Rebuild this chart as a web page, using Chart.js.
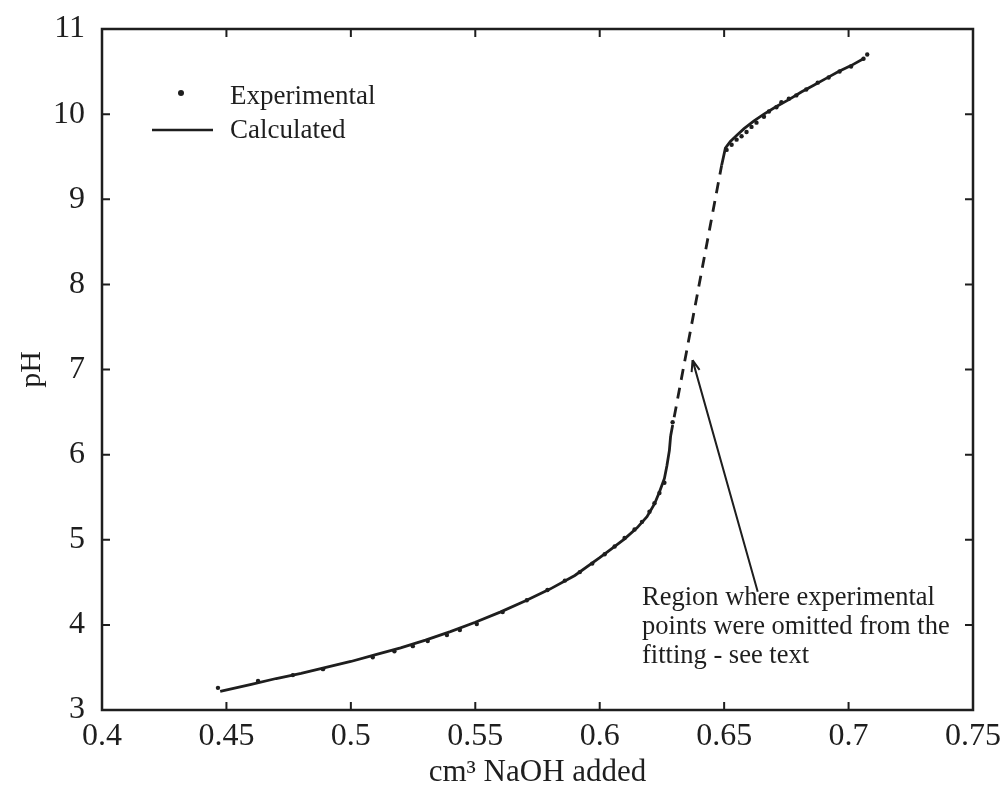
<!DOCTYPE html>
<html>
<head>
<meta charset="utf-8">
<script src="https://cdn.jsdelivr.net/npm/chart.js@4/dist/chart.umd.min.js"></script>
<style>
  html, body { margin: 0; padding: 0; background: #fff; }
  canvas { display: block; }
</style>
</head>
<body>
<canvas id="chart" width="1000" height="788"></canvas>
<script>
// Titration curve: pH vs volume of NaOH added

// calculated (fitted) curve
const calcVolume = [0.4475, 0.46, 0.47, 0.48, 0.49, 0.50, 0.51, 0.52, 0.53, 0.54, 0.55, 0.56, 0.57, 0.58, 0.59,
    0.60, 0.605, 0.61, 0.615, 0.619, 0.622, 0.624, 0.626, 0.627, 0.628, 0.6285,
    0.649, 0.6505, 0.6525, 0.655, 0.658, 0.662, 0.666, 0.671, 0.676, 0.681, 0.686, 0.691, 0.696, 0.701, 0.7065];
const calcPH = [3.22, 3.30, 3.37, 3.43, 3.50, 3.57, 3.65, 3.73, 3.82, 3.92, 4.03, 4.15, 4.28, 4.42, 4.58,
    4.79, 4.90, 5.01, 5.14, 5.27, 5.42, 5.56, 5.72, 5.87, 6.05, 6.22,
    9.40, 9.60, 9.68, 9.75, 9.83, 9.92, 10.00, 10.09, 10.17, 10.26, 10.34, 10.42, 10.50, 10.57, 10.66];
// index of the segment drawn dashed (points left out of the fit)
const dashedFrom = 25;

// experimental points
const expVolume = [0.4466, 0.4627, 0.4767, 0.4888, 0.5088, 0.5175, 0.5249, 0.5309, 0.5386, 0.5438, 0.5506,
    0.561, 0.5707, 0.579, 0.586, 0.592, 0.597, 0.602, 0.606, 0.610, 0.614, 0.617, 0.620, 0.622, 0.624, 0.626, 0.6293,
    0.651, 0.653, 0.655, 0.657, 0.659, 0.661, 0.663, 0.666, 0.668, 0.671, 0.673, 0.676, 0.679, 0.683, 0.6876,
    0.692, 0.6964, 0.701, 0.706, 0.7075];
const expPH = [3.26, 3.34, 3.41, 3.48, 3.62, 3.69, 3.75, 3.81, 3.88, 3.94, 4.01,
    4.15, 4.29, 4.41, 4.52, 4.62, 4.72, 4.83, 4.92, 5.02, 5.12, 5.21, 5.33, 5.43, 5.55, 5.67, 6.38,
    9.58, 9.64, 9.70, 9.74, 9.79, 9.85, 9.90, 9.97, 10.03, 10.08, 10.14, 10.18, 10.22, 10.29, 10.37,
    10.43, 10.50, 10.56, 10.65, 10.70];

// axis ticks
const xTicks = [0.4, 0.45, 0.5, 0.55, 0.6, 0.65, 0.7, 0.75];
const xTickLabels = ['0.4', '0.45', '0.5', '0.55', '0.6', '0.65', '0.7', '0.75'];
const yTicks = [3, 4, 5, 6, 7, 8, 9, 10, 11];
const yTickLabels = ['3', '4', '5', '6', '7', '8', '9', '10', '11'];

// annotation: arrow tail/head in data units, text anchor
const noteLines = ['Region where experimental', 'points were omitted from the', 'fitting - see text'];
const noteAt = { x: 0.617, y: 4.31 };
const arrowFrom = { x: 0.6635, y: 4.39 };
const arrowTo = { x: 0.6373, y: 7.11 };

const ink = '#1e1e1e';
const serif = '"Liberation Serif", "Times New Roman", serif';

const frameAndTicks = {
    id: 'frameAndTicks',
    afterDraw(chart) {
        const c = chart.ctx;
        const a = chart.chartArea;
        const xs = chart.scales.x, ys = chart.scales.y;
        c.save();
        c.strokeStyle = ink;
        c.lineWidth = 2.5;
        c.strokeRect(a.left, a.top, a.right - a.left, a.bottom - a.top);
        c.lineWidth = 2;
        const tl = 8;
        c.beginPath();
        xTicks.forEach(v => {
            const px = xs.getPixelForValue(v);
            c.moveTo(px, a.bottom); c.lineTo(px, a.bottom - tl);
            c.moveTo(px, a.top); c.lineTo(px, a.top + tl);
        });
        yTicks.forEach(v => {
            const py = ys.getPixelForValue(v);
            c.moveTo(a.left, py); c.lineTo(a.left + tl, py);
            c.moveTo(a.right, py); c.lineTo(a.right - tl, py);
        });
        c.stroke();

        // legend, top-left inside the plot
        c.fillStyle = ink;
        c.font = '27px ' + serif;
        c.textBaseline = 'middle';
        c.beginPath();
        c.arc(a.left + 79, a.top + 64, 3, 0, Math.PI * 2);
        c.fill();
        c.fillText('Experimental', a.left + 128, a.top + 68);
        c.lineWidth = 2.5;
        c.beginPath();
        c.moveTo(a.left + 50, a.top + 101);
        c.lineTo(a.left + 111, a.top + 101);
        c.stroke();
        c.fillText('Calculated', a.left + 128, a.top + 102);

        // annotation text
        const tx = xs.getPixelForValue(noteAt.x);
        const ty = ys.getPixelForValue(noteAt.y);
        c.font = '26.5px ' + serif;
        noteLines.forEach((s, i) => c.fillText(s, tx, ty + i * 29));

        // arrow
        const x0 = xs.getPixelForValue(arrowFrom.x), y0 = ys.getPixelForValue(arrowFrom.y);
        const x1 = xs.getPixelForValue(arrowTo.x), y1 = ys.getPixelForValue(arrowTo.y);
        c.lineWidth = 2;
        c.beginPath();
        c.moveTo(x0, y0);
        c.lineTo(x1, y1);
        const ang = Math.atan2(y1 - y0, x1 - x0);
        const hl = 12, hw = 0.35;
        c.moveTo(x1, y1);
        c.lineTo(x1 - hl * Math.cos(ang - hw), y1 - hl * Math.sin(ang - hw));
        c.moveTo(x1, y1);
        c.lineTo(x1 - hl * Math.cos(ang + hw), y1 - hl * Math.sin(ang + hw));
        c.stroke();
        c.restore();
    }
};

const ctx = document.getElementById('chart').getContext('2d');
new Chart(ctx, {
    type: 'scatter',
    data: {
        datasets: [{
            label: 'Calculated',
            data: calcVolume.map((v, i) => ({ x: v, y: calcPH[i] })),
            showLine: true,
            borderColor: ink,
            borderWidth: 2.8,
            pointRadius: 0,
            tension: 0,
            segment: {
                borderDash: s => s.p0DataIndex === dashedFrom ? [11, 8] : undefined
            }
        }, {
            label: 'Experimental',
            data: expVolume.map((v, i) => ({ x: v, y: expPH[i] })),
            showLine: false,
            pointRadius: 2.2,
            pointBorderWidth: 0,
            backgroundColor: ink
        }]
    },
    options: {
        responsive: false,
        animation: false,
        layout: { padding: { top: 29, right: 27, left: 0, bottom: 0 } },
        plugins: { legend: { display: false }, tooltip: { enabled: false } },
        scales: {
            x: {
                type: 'linear',
                min: 0.4,
                max: 0.75,
                afterBuildTicks: s => { s.ticks = xTicks.map(v => ({ value: v })); },
                afterFit: s => { s.height = 78; s.paddingLeft = 0; s.paddingRight = 0; },
                grid: { display: false, drawTicks: false },
                border: { display: false },
                ticks: {
                    padding: 7,
                    color: ink,
                    font: { family: serif, size: 32 },
                    callback: (v, i) => xTickLabels[i]
                },
                title: {
                    display: true,
                    text: 'cm³ NaOH added',
                    color: ink,
                    font: { family: serif, size: 31 },
                    padding: { top: 0, bottom: -3 }
                }
            },
            y: {
                type: 'linear',
                min: 3,
                max: 11,
                afterBuildTicks: s => { s.ticks = yTicks.map(v => ({ value: v })); },
                afterFit: s => { s.width = 102; s.paddingTop = 0; s.paddingBottom = 0; },
                grid: { display: false, drawTicks: false },
                border: { display: false },
                ticks: {
                    padding: 17,
                    color: ink,
                    font: { family: serif, size: 32 },
                    callback: (v, i) => yTickLabels[i]
                },
                title: {
                    display: true,
                    text: 'pH',
                    color: ink,
                    font: { family: serif, size: 30 },
                    padding: { top: 14, bottom: 0 }
                }
            }
        }
    },
    plugins: [frameAndTicks]
});
</script>
</body>
</html>
